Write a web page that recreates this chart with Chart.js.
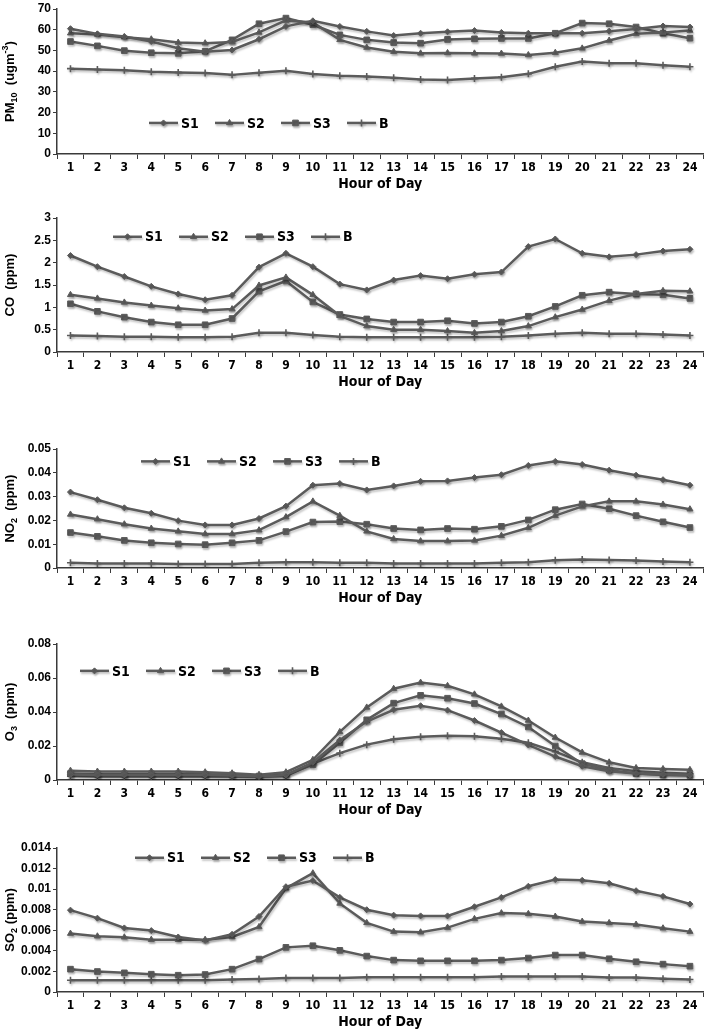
<!DOCTYPE html>
<html>
<head>
<meta charset="utf-8">
<title>Hourly pollutant concentrations</title>
<script src="https://cdn.jsdelivr.net/npm/chart.js@4.4.1/dist/chart.umd.min.js"></script>
<style>
  html, body { margin: 0; padding: 0; background: #fff; }
  #page { position: relative; width: 709px; height: 1032px; overflow: hidden; }
  .panel { position: absolute; left: 0; width: 709px; }
</style>
</head>
<body>
<div id="page"></div>
<script>
'use strict';

// ── Data ─────────────────────────────────────────────────
const hours = ['1','2','3','4','5','6','7','8','9','10','11','12',
               '13','14','15','16','17','18','19','20','21','22','23','24'];
const seriesNames = ['S1', 'S2', 'S3', 'B'];

const pm10S1 = [60.5, 58, 56.7, 54.3, 51.1, 49.4, 50.2, 55.4, 61.6, 64.3, 61.6, 59.2, 57.2, 58.3, 59, 59.6, 58.7, 58.3, 58.3, 58.3, 59.3, 60.3, 61.8, 61.3];
const pm10S2 = [58.3, 57.7, 56.4, 55.4, 53.8, 53.5, 54.1, 58.7, 64.5, 63.5, 55.1, 51.4, 49.4, 48.6, 48.8, 48.6, 48.5, 47.8, 48.9, 51, 54.8, 58, 58.7, 59.6];
const pm10S3 = [54.3, 52.2, 49.9, 48.9, 48.6, 49.6, 55.1, 62.9, 65.6, 62.4, 57.5, 55.1, 53.8, 53.5, 55.3, 55.6, 55.8, 55.8, 58.3, 63.2, 62.9, 61.3, 58.3, 55.9];
const pm10B  = [41.2, 40.8, 40.4, 39.7, 39.4, 39.1, 38.2, 39.2, 40.2, 38.6, 37.8, 37.4, 36.8, 36, 35.7, 36.5, 37.1, 38.7, 42.1, 44.6, 43.8, 43.8, 42.9, 42.1];

const coS1 = [2.16, 1.91, 1.69, 1.47, 1.30, 1.17, 1.27, 1.90, 2.21, 1.91, 1.52, 1.39, 1.61, 1.71, 1.64, 1.74, 1.79, 2.36, 2.53, 2.21, 2.13, 2.18, 2.26, 2.30];
const coS2 = [1.28, 1.20, 1.11, 1.04, 0.98, 0.93, 0.96, 1.49, 1.67, 1.28, 0.81, 0.58, 0.50, 0.50, 0.47, 0.43, 0.47, 0.58, 0.78, 0.95, 1.15, 1.30, 1.37, 1.36];
const coS3 = [1.08, 0.91, 0.78, 0.67, 0.61, 0.61, 0.75, 1.36, 1.59, 1.12, 0.84, 0.74, 0.67, 0.67, 0.70, 0.64, 0.67, 0.80, 1.02, 1.27, 1.34, 1.30, 1.28, 1.20];
const coB  = [0.37, 0.36, 0.34, 0.34, 0.33, 0.33, 0.34, 0.43, 0.43, 0.38, 0.34, 0.33, 0.33, 0.33, 0.33, 0.33, 0.34, 0.37, 0.41, 0.43, 0.41, 0.41, 0.39, 0.37];

const no2S1 = [0.0319, 0.0287, 0.0253, 0.0230, 0.0199, 0.0181, 0.0181, 0.0208, 0.0260, 0.0348, 0.0355, 0.0328, 0.0345, 0.0364, 0.0366, 0.0380, 0.0392, 0.0431, 0.0448, 0.0435, 0.0411, 0.0390, 0.0371, 0.0348];
const no2S2 = [0.0225, 0.0205, 0.0184, 0.0166, 0.0154, 0.0143, 0.0143, 0.0159, 0.0214, 0.0280, 0.0220, 0.0154, 0.0122, 0.0113, 0.0113, 0.0116, 0.0136, 0.0169, 0.0220, 0.0259, 0.0280, 0.0280, 0.0267, 0.0247];
const no2S3 = [0.0149, 0.0133, 0.0116, 0.0106, 0.0101, 0.0098, 0.0106, 0.0116, 0.0153, 0.0193, 0.0195, 0.0184, 0.0166, 0.0160, 0.0166, 0.0163, 0.0175, 0.0202, 0.0245, 0.0269, 0.0249, 0.0220, 0.0194, 0.0170];
const no2B  = [0.0022, 0.0019, 0.0019, 0.0019, 0.0017, 0.0017, 0.0017, 0.0022, 0.0024, 0.0024, 0.0022, 0.0022, 0.0019, 0.0019, 0.0019, 0.0019, 0.0022, 0.0024, 0.0033, 0.0036, 0.0034, 0.0031, 0.0027, 0.0024];

const o3S1 = [0.0033, 0.0030, 0.0030, 0.0030, 0.0030, 0.0029, 0.0027, 0.0021, 0.0030, 0.0104, 0.0235, 0.0344, 0.0413, 0.0437, 0.0411, 0.0350, 0.0279, 0.0206, 0.0138, 0.0081, 0.0052, 0.0038, 0.0033, 0.0030];
const o3S2 = [0.0055, 0.0050, 0.0050, 0.0050, 0.0050, 0.0046, 0.0040, 0.0031, 0.0046, 0.0119, 0.0283, 0.0427, 0.0537, 0.0573, 0.0554, 0.0504, 0.0433, 0.0350, 0.0250, 0.0162, 0.0104, 0.0071, 0.0065, 0.0060];
const o3S3 = [0.0038, 0.0036, 0.0036, 0.0036, 0.0036, 0.0034, 0.0030, 0.0023, 0.0031, 0.0090, 0.0219, 0.0354, 0.0452, 0.0498, 0.0481, 0.0450, 0.0388, 0.0312, 0.0200, 0.0096, 0.0058, 0.0038, 0.0029, 0.0027];
const o3B  = [0.0023, 0.0021, 0.0021, 0.0021, 0.0021, 0.0021, 0.0021, 0.0019, 0.0023, 0.0096, 0.0158, 0.0208, 0.0240, 0.0254, 0.0260, 0.0258, 0.0242, 0.0219, 0.0167, 0.0104, 0.0071, 0.0052, 0.0042, 0.0037];

const so2S1 = [0.00796, 0.00718, 0.00623, 0.00597, 0.00535, 0.00502, 0.00561, 0.00734, 0.01024, 0.01083, 0.00920, 0.00800, 0.00747, 0.00740, 0.00740, 0.00829, 0.00920, 0.01028, 0.01093, 0.01086, 0.01057, 0.00985, 0.00930, 0.00855];
const so2S2 = [0.00568, 0.00542, 0.00532, 0.00509, 0.00509, 0.00509, 0.00535, 0.00633, 0.01008, 0.01155, 0.00861, 0.00672, 0.00587, 0.00581, 0.00626, 0.00711, 0.00767, 0.00760, 0.00734, 0.00685, 0.00672, 0.00656, 0.00620, 0.00587];
const so2S3 = [0.00222, 0.00199, 0.00186, 0.00173, 0.00163, 0.00170, 0.00222, 0.00320, 0.00434, 0.00450, 0.00405, 0.00349, 0.00310, 0.00303, 0.00303, 0.00303, 0.00310, 0.00330, 0.00359, 0.00359, 0.00323, 0.00294, 0.00271, 0.00251];
const so2B  = [0.00114, 0.00114, 0.00114, 0.00114, 0.00114, 0.00114, 0.00121, 0.00127, 0.00137, 0.00137, 0.00137, 0.00144, 0.00144, 0.00144, 0.00144, 0.00144, 0.00150, 0.00150, 0.00150, 0.00150, 0.00140, 0.00140, 0.00130, 0.00121];

// ── Look & layout ────────────────────────────────────────
const LINE_COLOR = '#5b5b5b';
const AXIS_COLOR = '#3a3a3a';
const NARROW = '"Liberation Sans Narrow", "DejaVu Sans Condensed", sans-serif';
const WIDE   = '"Liberation Sans", Arial, sans-serif';
const PAD_TOP = 10;
const X_AXIS_H = 40;
const Y_AXIS_W = 57;

const markers = [
    { pointStyle: 'rectRot',  pointRadius: 3,   pointBorderWidth: 1 },
    { pointStyle: 'triangle', pointRadius: 3.5, pointBorderWidth: 1 },
    { pointStyle: 'rect',     pointRadius: 4,   pointBorderWidth: 1 },
    { pointStyle: 'cross',    pointRadius: 3.5, pointBorderWidth: 1.6 },
];

// top/bottom = pixel rows of the y-axis max and zero in the page
const panels = [
    { title: [{ t: 'PM' }, { t: '10', sub: true }, { t: '  (ugm' }, { t: '-3', sup: true }, { t: ')' }],
      series: [pm10S1, pm10S2, pm10S3, pm10B], max: 70, step: 10,
      top: 9, bottom: 154, legendX: 149, legendAt: 15 },
    { title: [{ t: 'CO  (ppm)' }],
      series: [coS1, coS2, coS3, coB], max: 3, step: 0.5,
      top: 218, bottom: 352, legendX: 113, legendAt: 2.58 },
    { title: [{ t: 'NO' }, { t: '2', sub: true }, { t: '  (ppm)' }],
      series: [no2S1, no2S2, no2S3, no2B], max: 0.05, step: 0.01,
      top: 449, bottom: 568, legendX: 141, legendAt: 0.0448 },
    { title: [{ t: 'O' }, { t: '3', sub: true }, { t: '  (ppm)' }],
      series: [o3S1, o3S2, o3S3, o3B], max: 0.08, step: 0.02,
      top: 644, bottom: 780, legendX: 80, legendAt: 0.0642 },
    { title: [{ t: 'SO' }, { t: '2', sub: true }, { t: ' (ppm)' }],
      series: [so2S1, so2S2, so2S3, so2B], max: 0.014, step: 0.002,
      top: 848, bottom: 992, legendX: 135, legendAt: 0.01305 },
];

// ── Plugins ──────────────────────────────────────────────
// soft drop shadow under the series lines, like the Excel original
const shadowPlugin = {
    id: 'lineShadow',
    beforeDatasetsDraw(chart) {
        const ctx = chart.ctx;
        ctx.save();
        ctx.shadowColor = 'rgba(0,0,0,0.22)';
        ctx.shadowOffsetX = 1;
        ctx.shadowOffsetY = 2;
        ctx.shadowBlur = 2;
    },
    afterDatasetsDraw(chart) {
        chart.ctx.restore();
    }
};

function drawMarker(ctx, m, x, y) {
    if (Chart.helpers && Chart.helpers.drawPoint) {
        Chart.helpers.drawPoint(ctx, {
            pointStyle: m.pointStyle, radius: m.pointRadius,
            borderWidth: m.pointBorderWidth, rotation: 0
        }, x, y);
    }
}

// legend drawn inside the plot: short line with the marker, then the name
const lineLegendPlugin = {
    id: 'lineLegend',
    afterDraw(chart, args, opts) {
        const { ctx } = chart;
        const cy = chart.scales.y.getPixelForValue(opts.at);
        let x = opts.x;
        ctx.save();
        ctx.shadowColor = 'rgba(0,0,0,0.22)';
        ctx.shadowOffsetX = 1;
        ctx.shadowOffsetY = 2;
        ctx.shadowBlur = 2;
        chart.data.datasets.forEach((ds, i) => {
            ctx.strokeStyle = LINE_COLOR;
            ctx.fillStyle = LINE_COLOR;
            ctx.lineWidth = 2.5;
            ctx.beginPath();
            ctx.moveTo(x, cy);
            ctx.lineTo(x + 29, cy);
            ctx.stroke();
            ctx.lineWidth = markers[i].pointBorderWidth;
            drawMarker(ctx, markers[i], x + 14.5, cy);
            x += 66;
        });
        ctx.restore();

        ctx.save();
        ctx.fillStyle = '#000';
        ctx.font = 'bold 14px ' + NARROW;
        ctx.textBaseline = 'middle';
        ctx.textAlign = 'left';
        x = opts.x;
        chart.data.datasets.forEach(ds => {
            ctx.fillText(ds.label, x + 32, cy + 1);
            x += 66;
        });
        ctx.restore();
    }
};

// rotated y-axis title with sub/superscripts
const yTitlePlugin = {
    id: 'yTitle',
    afterDraw(chart, args, opts) {
        const { ctx, chartArea } = chart;
        const size = 13;
        const big = 'bold ' + size + 'px ' + WIDE;
        const small = 'bold ' + Math.round(size * 0.72) + 'px ' + WIDE;
        ctx.save();
        ctx.translate(opts.x, (chartArea.top + chartArea.bottom) / 2);
        ctx.rotate(-Math.PI / 2);
        let total = 0;
        opts.parts.forEach(p => {
            ctx.font = (p.sub || p.sup) ? small : big;
            total += ctx.measureText(p.t).width;
        });
        let x = -total / 2;
        ctx.fillStyle = '#000';
        ctx.textBaseline = 'middle';
        opts.parts.forEach(p => {
            ctx.font = (p.sub || p.sup) ? small : big;
            const dy = p.sub ? size * 0.32 : (p.sup ? -size * 0.38 : 0);
            ctx.fillText(p.t, x, dy);
            x += ctx.measureText(p.t).width;
        });
        ctx.restore();
    }
};

// ── Build the five panels ────────────────────────────────
const page = document.getElementById('page');

panels.forEach(p => {
    const box = document.createElement('div');
    box.className = 'panel';
    box.style.top = (p.top - PAD_TOP) + 'px';
    box.style.height = (PAD_TOP + (p.bottom - p.top) + X_AXIS_H) + 'px';
    const canvas = document.createElement('canvas');
    box.appendChild(canvas);
    page.appendChild(box);

    new Chart(canvas.getContext('2d'), {
        type: 'line',
        data: {
            labels: hours,
            datasets: seriesNames.map((name, i) => ({
                label: name,
                data: p.series[i],
                borderColor: LINE_COLOR,
                backgroundColor: LINE_COLOR,
                pointBackgroundColor: LINE_COLOR,
                pointBorderColor: LINE_COLOR,
                borderWidth: 2.5,
                tension: 0,
                fill: false,
                ...markers[i],
            }))
        },
        options: {
            responsive: true,
            maintainAspectRatio: false,
            animation: false,
            events: [],
            layout: { padding: { top: PAD_TOP, right: 4, left: 0, bottom: 0 } },
            plugins: {
                legend: { display: false },
                tooltip: { enabled: false },
                lineLegend: { x: p.legendX, at: p.legendAt },
                yTitle: { x: 10, parts: p.title },
            },
            scales: {
                x: {
                    offset: true,
                    grid: { offset: true, drawOnChartArea: false, tickLength: 5, color: AXIS_COLOR, lineWidth: 1 },
                    border: { color: AXIS_COLOR, width: 1.5 },
                    ticks: { color: '#000', font: { family: NARROW, size: 12, weight: 'bold' },
                             padding: 2, maxRotation: 0, autoSkip: false },
                    title: { display: true, text: 'Hour of Day', color: '#000',
                             font: { family: NARROW, size: 14, weight: 'bold' },
                             padding: { top: 0, bottom: 1 } },
                    afterFit: s => { s.height = X_AXIS_H; }
                },
                y: {
                    min: 0,
                    max: p.max,
                    grid: { drawOnChartArea: false, tickLength: 4, color: AXIS_COLOR, lineWidth: 1 },
                    border: { color: AXIS_COLOR, width: 1.5 },
                    ticks: {
                        stepSize: p.step,
                        color: '#000',
                        font: { family: WIDE, size: 12, weight: 'bold' },
                        padding: 2,
                        callback: v => String(+Number(v).toFixed(4))
                    },
                    afterFit: s => { s.width = Y_AXIS_W; }
                }
            }
        },
        plugins: [shadowPlugin, lineLegendPlugin, yTitlePlugin]
    });
});
</script>
</body>
</html>
